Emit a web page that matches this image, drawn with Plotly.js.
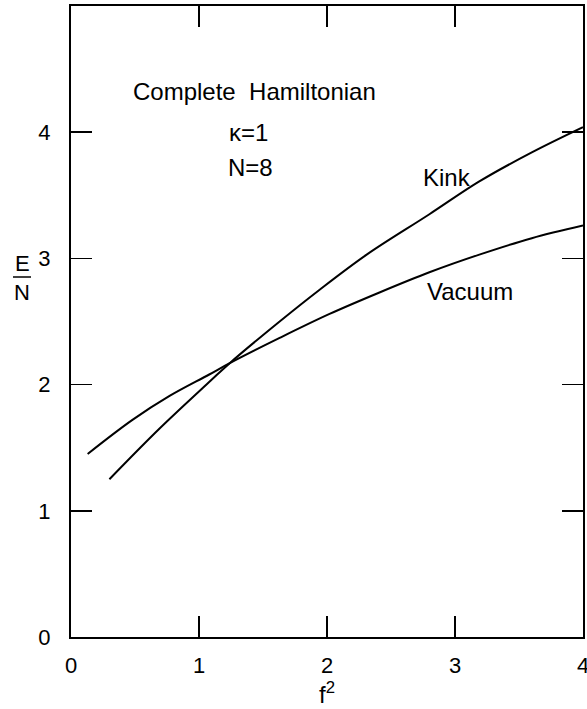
<!DOCTYPE html>
<html>
<head>
<meta charset="utf-8">
<script src="https://cdn.plot.ly/plotly-3.0.1.min.js"></script>
<style>html,body{margin:0;padding:0;background:#fff;}#chart{width:587px;height:709px;}</style>
</head>
<body>
<div id="chart"></div>
<script>
// Data
const kinkX = [0.30, 0.69, 1.09, 1.24, 1.63, 1.94, 2.31, 2.80, 3.19, 3.60, 4.00];
const kinkY = [1.25, 1.65, 2.03, 2.17, 2.50, 2.75, 3.03, 3.35, 3.61, 3.84, 4.04];
const vacuumX = [0.13, 0.48, 0.77, 1.08, 1.24, 1.63, 2.02, 2.41, 2.80, 3.19, 3.60, 4.00];
const vacuumY = [1.45, 1.72, 1.91, 2.08, 2.17, 2.37, 2.56, 2.73, 2.89, 3.03, 3.16, 3.26];
const xTicks = [0, 1, 2, 3, 4];
const xTickText = ['0', '1', '2', '3', '4'];
const yTicks = [0, 1, 2, 3, 4];
const yTickText = ['0', '1', '2', '3', '4'];

const FONT = 'Liberation Sans, Arial, sans-serif';
const lineStyle = {color: '#000', width: 2, shape: 'spline', smoothing: 1};

const traces = [
  {x: kinkX, y: kinkY, mode: 'lines', line: lineStyle, name: 'Kink', hoverinfo: 'skip'},
  {x: vacuumX, y: vacuumY, mode: 'lines', line: lineStyle, name: 'Vacuum', hoverinfo: 'skip'}
];

const axisCommon = {
  showgrid: false, zeroline: false, showline: true, linecolor: '#000', linewidth: 2,
  ticks: 'inside', ticklen: 21, tickwidth: 1.5, tickcolor: '#000', mirror: 'ticks',
  tickfont: {family: FONT, size: 22, color: '#000'}
};

const layout = {
  width: 587, height: 709,
  margin: {l: 71, r: 4, t: 6, b: 72},
  paper_bgcolor: '#fff', plot_bgcolor: '#fff',
  showlegend: false,
  font: {family: FONT, color: '#000'},
  xaxis: Object.assign({}, axisCommon, {
    range: [0, 4], tickvals: xTicks, ticktext: xTickText, ticklabelstandoff: 8,
    ticklabeloverflow: 'allow',
    title: {text: 'f<sup>2</sup>', font: {family: FONT, size: 24, color: '#000'}, standoff: 2}
  }),
  yaxis: Object.assign({}, axisCommon, {
    range: [0, 5], tickvals: yTicks, ticktext: yTickText, ticklabelstandoff: 14
  }),
  annotations: [
    {x: 1.43, y: 4.32, xref: 'x', yref: 'y', text: 'Complete\u00a0\u00a0Hamiltonian', showarrow: false, font: {family: FONT, size: 24, color: '#000'}},
    {x: 1.39, y: 4.0, xref: 'x', yref: 'y', text: '\u03ba=1', showarrow: false, font: {family: FONT, size: 24, color: '#000'}},
    {x: 1.40, y: 3.72, xref: 'x', yref: 'y', text: 'N=8', showarrow: false, font: {family: FONT, size: 24, color: '#000'}},
    {x: 2.94, y: 3.64, xref: 'x', yref: 'y', text: 'Kink', showarrow: false, font: {family: FONT, size: 24, color: '#000'}},
    {x: 3.12, y: 2.74, xref: 'x', yref: 'y', text: 'Vacuum', showarrow: false, font: {family: FONT, size: 24, color: '#000'}},
    {x: 0, y: 0, xref: 'paper', yref: 'paper', xanchor: 'center', yanchor: 'middle', text: 'E', showarrow: false, font: {family: FONT, size: 22, color: '#000'}},
    {x: 0, y: 0, xref: 'paper', yref: 'paper', xanchor: 'center', yanchor: 'middle', text: 'N', showarrow: false, font: {family: FONT, size: 22, color: '#000'}}
  ],
  shapes: []
};

// convert pixel positions to paper coords for the y-title pieces
const plotW = 587 - 71 - 4, plotH = 709 - 6 - 72;
function px2paperX(px) { return (px - 71) / plotW; }
function py2paperY(py) { return (709 - 72 - py) / plotH; }
layout.annotations[5].x = px2paperX(22); layout.annotations[5].y = py2paperY(263);
layout.annotations[6].x = px2paperX(22); layout.annotations[6].y = py2paperY(292);
layout.shapes.push({type: 'line', xref: 'paper', yref: 'paper',
  x0: px2paperX(13), x1: px2paperX(31), y0: py2paperY(277), y1: py2paperY(277),
  line: {color: '#000', width: 1.5}});

Plotly.newPlot('chart', traces, layout, {displayModeBar: false, staticPlot: true});
</script>
</body>
</html>
